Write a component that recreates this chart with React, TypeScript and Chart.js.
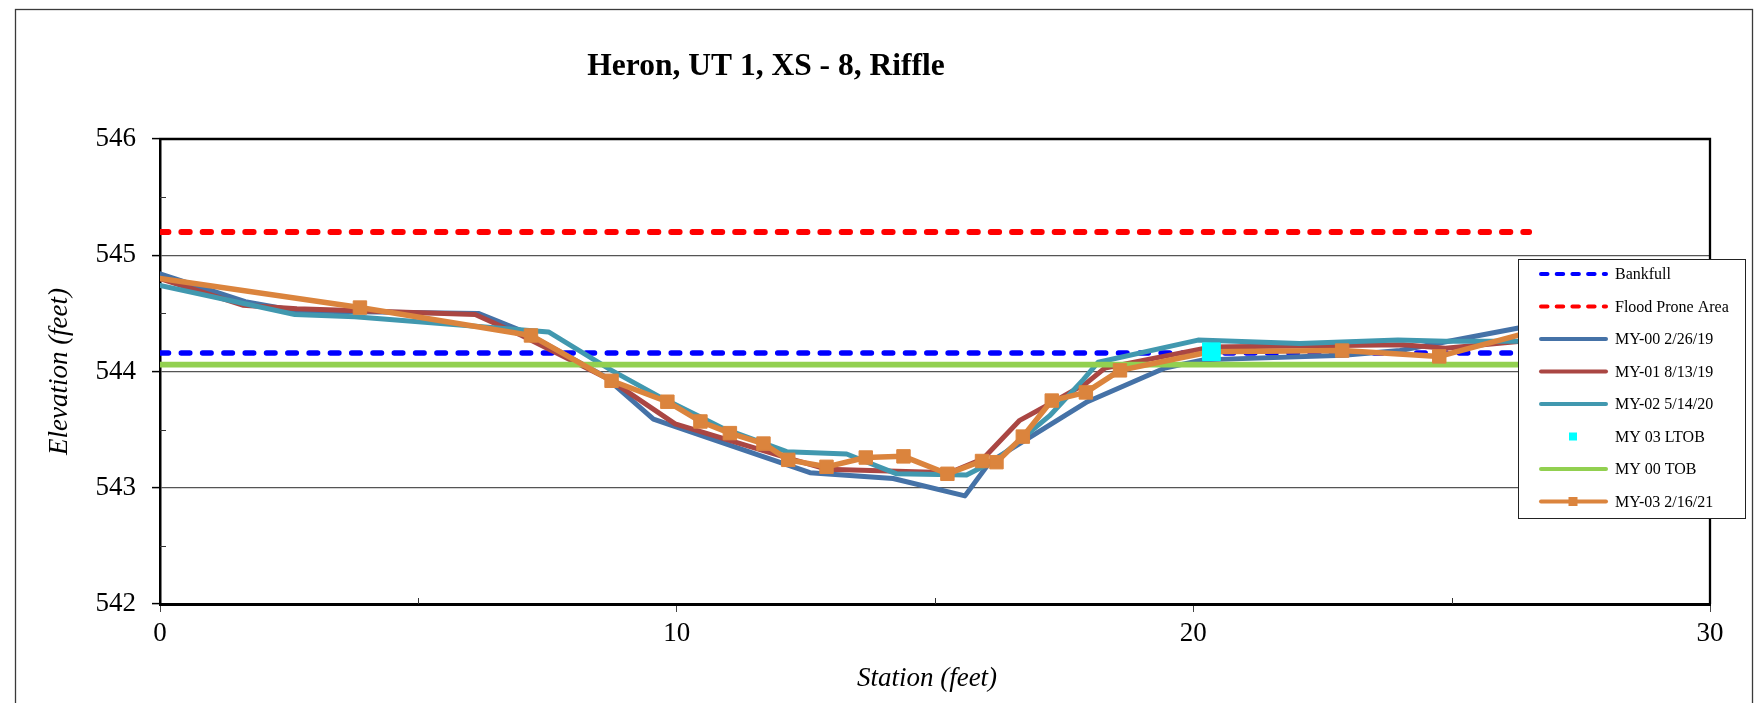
import React, { useEffect, useRef } from 'react';
import { Chart, registerables } from 'chart.js';

Chart.register(...registerables);

const TITLE = 'Heron, UT 1, XS - 8, Riffle';
const X_TITLE = 'Station (feet)';
const Y_TITLE = 'Elevation (feet)';
const X_TICKS = [0, 10, 20, 30];
const Y_TICKS = [542, 543, 544, 545, 546];
const X_MINOR = [5, 15, 25];
const Y_MINOR = [542.5, 543.5, 544.5, 545.5];

const bankfullX = [0, 26.5];
const bankfullY = [544.16, 544.16];
const floodX = [0, 26.5];
const floodY = [545.2, 545.2];
const tobX = [0, 26.5];
const tobY = [544.06, 544.06];

const my00X = [0, 1.65, 2.65, 6.16, 7.0, 8.6, 9.55, 12.58, 14.19, 15.58, 16.06, 17.95, 19.45, 20.19, 22.91, 24.0, 26.6];
const my00Y = [544.84, 544.6, 544.52, 544.5, 544.35, 543.96, 543.59, 543.13, 543.08, 542.93, 543.22, 543.74, 544.03, 544.1, 544.14, 544.18, 544.4];

const my01X = [0, 1.6, 2.65, 6.1, 7.0, 8.7, 9.97, 12.19, 12.9, 15.29, 15.93, 16.64, 17.22, 17.93, 18.29, 20.33, 24.06, 24.88, 26.6];
const my01Y = [544.8, 544.57, 544.54, 544.49, 544.31, 543.93, 543.55, 543.25, 543.16, 543.13, 543.25, 543.58, 543.72, 543.9, 544.03, 544.21, 544.23, 544.2, 544.27];

const my02X = [0, 2.61, 3.77, 7.52, 8.74, 9.68, 10.45, 10.9, 12.13, 13.29, 14.26, 15.61, 16.19, 17.22, 17.87, 18.16, 20.09, 22.06, 23.96, 24.88, 26.6];
const my02Y = [544.74, 544.49, 544.47, 544.34, 544.01, 543.78, 543.61, 543.51, 543.31, 543.29, 543.12, 543.11, 543.24, 543.62, 543.93, 544.08, 544.27, 544.24, 544.27, 544.26, 544.26];

const ltobX = [20.35];
const ltobY = [544.17];

const my03X = [0, 3.87, 7.18, 8.74, 9.82, 10.46, 11.03, 11.68, 12.16, 12.9, 13.66, 14.39, 15.24, 15.91, 16.19, 16.7, 17.26, 17.92, 18.58, 20.33, 22.88, 24.76, 26.6];
const my03Y = [544.8, 544.55, 544.31, 543.92, 543.74, 543.57, 543.47, 543.38, 543.24, 543.18, 543.26, 543.27, 543.12, 543.23, 543.22, 543.44, 543.75, 543.82, 544.01, 544.17, 544.18, 544.13, 544.35];

const LABELS = ['Bankfull', 'Flood Prone Area', 'MY-00 2/26/19', 'MY-01 8/13/19', 'MY-02 5/14/20', 'MY 03 LTOB', 'MY 00 TOB', 'MY-03 2/16/21'];

const C_BANK = '#0000FF';
const C_FLOOD = '#FF0000';
const C_00 = '#4572A7';
const C_01 = '#AA4643';
const C_02 = '#4198AF';
const C_LTOB = '#00FFFF';
const C_TOB = '#92D050';
const C_03 = '#DB843D';

const FONT = "'Liberation Serif', 'Times New Roman', serif";

const pts = (xs: number[], ys: number[]) => xs.map((x, i) => ({ x, y: ys[i] }));

type LegendSpec = { color: string; dash?: number[]; line: boolean; marker?: number };
const LEGEND_STYLE: LegendSpec[] = [
  { color: C_BANK, dash: [6.5, 9.2], line: true },
  { color: C_FLOOD, dash: [6.5, 9.2], line: true },
  { color: C_00, line: true },
  { color: C_01, line: true },
  { color: C_02, line: true },
  { color: C_LTOB, line: false, marker: 8 },
  { color: C_TOB, line: true },
  { color: C_03, line: true, marker: 9 },
];

const decorPlugin = {
  id: 'decor',
  beforeDraw(chart: any) {
    const ctx = chart.ctx;
    ctx.save();
    ctx.fillStyle = '#ffffff';
    ctx.fillRect(0, 0, chart.width, chart.height);
    ctx.strokeStyle = '#3a3a3a';
    ctx.lineWidth = 1.3;
    ctx.strokeRect(15.5, 9.5, 1737, 720);
    ctx.restore();
  },
  afterDraw(chart: any) {
    const { ctx, chartArea: a, scales } = chart;
    const xs = scales.x;
    const ys = scales.y;
    ctx.save();
    ctx.strokeStyle = '#000';
    ctx.lineWidth = 2.3;
    ctx.setLineDash([]);
    ctx.beginPath();
    ctx.moveTo(a.left - 1, a.top);
    ctx.lineTo(a.right, a.top);
    ctx.lineTo(a.right, a.bottom);
    ctx.stroke();
    ctx.lineWidth = 1;
    ctx.strokeStyle = '#333';
    X_MINOR.forEach((v) => {
      const px = Math.round(xs.getPixelForValue(v)) + 0.5;
      ctx.beginPath();
      ctx.moveTo(px, a.bottom);
      ctx.lineTo(px, a.bottom - 6);
      ctx.stroke();
    });
    Y_MINOR.forEach((v) => {
      const py = Math.round(ys.getPixelForValue(v)) + 0.5;
      ctx.beginPath();
      ctx.moveTo(a.left, py);
      ctx.lineTo(a.left + 6, py);
      ctx.stroke();
    });
    ctx.fillStyle = '#000';
    ctx.textAlign = 'center';
    ctx.textBaseline = 'middle';
    ctx.font = `bold 31.5px ${FONT}`;
    ctx.fillText(TITLE, 766, 67);
    ctx.font = `italic 27px ${FONT}`;
    ctx.fillText(X_TITLE, (a.left + a.right) / 2 - 8, 679);
    ctx.save();
    ctx.translate(60, (a.top + a.bottom) / 2);
    ctx.rotate(-Math.PI / 2);
    ctx.fillText(Y_TITLE, 0, 0);
    ctx.restore();

    const bx = 1518, by = 259, bw = 227, bh = 259;
    ctx.fillStyle = '#fff';
    ctx.fillRect(bx, by, bw, bh);
    ctx.strokeStyle = '#222';
    ctx.lineWidth = 1;
    ctx.strokeRect(bx + 0.5, by + 0.5, bw, bh);
    ctx.font = `16px ${FONT}`;
    ctx.textAlign = 'left';
    ctx.textBaseline = 'middle';
    LABELS.forEach((label, i) => {
      const st = LEGEND_STYLE[i];
      const cy = 274 + i * 32.5;
      const x0 = 1541, x1 = 1606, cx = 1573;
      if (st.line) {
        ctx.strokeStyle = st.color;
        ctx.lineWidth = 4;
        ctx.lineCap = 'round';
        ctx.setLineDash(st.dash || []);
        ctx.beginPath();
        ctx.moveTo(x0, cy);
        ctx.lineTo(x1, cy);
        ctx.stroke();
        ctx.setLineDash([]);
      }
      if (st.marker) {
        ctx.fillStyle = st.color;
        ctx.fillRect(cx - st.marker / 2, cy - st.marker / 2, st.marker, st.marker);
      }
      ctx.fillStyle = '#000';
      ctx.fillText(label, 1615, cy + 1);
    });
    ctx.restore();
  },
};

export default function App() {
  const ref = useRef<HTMLCanvasElement | null>(null);

  useEffect(() => {
    if (!ref.current) return;
    const solid = (label: string, color: string, data: any[], order: number, width = 5) => ({
      label,
      data,
      showLine: true,
      borderColor: color,
      backgroundColor: color,
      borderWidth: width,
      borderJoinStyle: 'round' as const,
      borderCapStyle: 'round' as const,
      pointRadius: 0,
      order,
    });
    const chart = new Chart(ref.current, {
      type: 'scatter',
      data: {
        datasets: [
          { ...solid(LABELS[0], C_BANK, pts(bankfullX, bankfullY), 7, 5.5), borderDash: [8.5, 12.8] },
          { ...solid(LABELS[1], C_FLOOD, pts(floodX, floodY), 6, 5.8), borderDash: [8.5, 12.8] },
          solid(LABELS[2], C_00, pts(my00X, my00Y), 5),
          solid(LABELS[3], C_01, pts(my01X, my01Y), 4),
          solid(LABELS[4], C_02, pts(my02X, my02Y), 3),
          {
            label: LABELS[5],
            data: pts(ltobX, ltobY),
            showLine: false,
            pointStyle: 'rect',
            pointRadius: 12.5,
            pointBorderWidth: 1,
            borderColor: C_LTOB,
            backgroundColor: C_LTOB,
            order: 0,
          },
          solid(LABELS[6], C_TOB, pts(tobX, tobY), 2, 5.8),
          {
            ...solid(LABELS[7], C_03, pts(my03X, my03Y), 1, 5.5),
            pointStyle: 'rect',
            pointRadius: (c: any) => (c.dataIndex === 0 ? 0 : 9.5),
            pointBorderWidth: 1,
            pointBackgroundColor: C_03,
            pointBorderColor: C_03,
          },
        ],
      },
      options: {
        responsive: false,
        animation: false,
        events: [],
        layout: { padding: { top: 139, right: 44, left: 0, bottom: 0 } },
        plugins: {
          legend: { display: false },
          tooltip: { enabled: false },
          title: { display: false },
        },
        scales: {
          x: {
            type: 'linear',
            min: 0,
            max: 30,
            position: 'bottom',
            ticks: {
              stepSize: 10,
              color: '#000',
              font: { family: FONT, size: 27 },
              padding: 6,
              maxRotation: 0,
              autoSkip: false,
              callback: (v: any) => (X_TICKS.includes(Number(v)) ? String(v) : ''),
            },
            grid: {
              display: true,
              drawOnChartArea: false,
              drawTicks: true,
              tickLength: 8,
              tickColor: '#444',
              tickWidth: 1,
            },
            border: { display: true, color: '#000', width: 3 },
            afterFit: (s: any) => {
              s.height = 99;
            },
          },
          y: {
            type: 'linear',
            min: 542,
            max: 546,
            ticks: {
              stepSize: 1,
              color: '#000',
              font: { family: FONT, size: 27 },
              padding: 16,
              callback: (v: any) => (Y_TICKS.includes(Number(v)) ? String(v) : ''),
            },
            grid: {
              display: true,
              drawOnChartArea: true,
              color: (c: any) => {
                const v = c.tick ? c.tick.value : null;
                return v !== null && v > Y_TICKS[0] && v < Y_TICKS[Y_TICKS.length - 1] ? '#555' : 'rgba(0,0,0,0)';
              },
              lineWidth: 1.2,
              tickLength: 8,
              tickColor: '#000',
              tickWidth: 1.5,
            },
            border: { display: true, color: '#000', width: 2.5 },
            afterFit: (s: any) => {
              s.width = 160;
            },
          },
        },
      } as any,
      plugins: [decorPlugin],
    });
    return () => chart.destroy();
  }, []);

  return (
    <div style={{ position: 'fixed', left: 0, top: 0, width: 1754, height: 703, background: '#fff' }}>
      <canvas ref={ref} width={1754} height={703} style={{ display: 'block' }} />
    </div>
  );
}
